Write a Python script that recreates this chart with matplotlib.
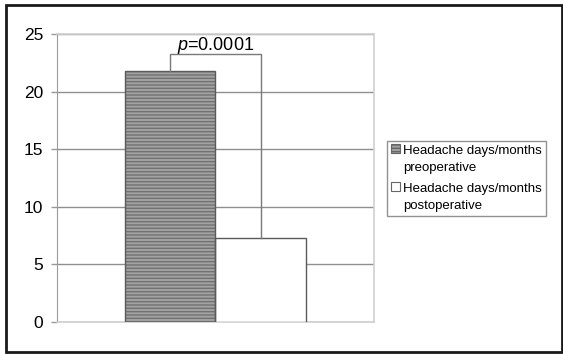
import matplotlib
matplotlib.use("Agg")
import matplotlib.pyplot as plt
from matplotlib.patches import Rectangle
from matplotlib.legend_handler import HandlerPatch

categorias = ["Headache days/months\npreoperative", "Headache days/months\npostoperative"]
valores = [21.8, 7.3]
texto_p = "$p$=0.0001"
altura_llave = 23.3
yticks = [0, 5, 10, 15, 20, 25]

plt.rcParams["font.family"] = ["Liberation Sans", "DejaVu Sans"]
plt.rcParams["mathtext.fontset"] = "custom"
plt.rcParams["mathtext.rm"] = "Liberation Sans"
plt.rcParams["mathtext.it"] = "Liberation Sans:italic"
plt.rcParams["hatch.linewidth"] = 1.0

fig = plt.figure(figsize=(5.63, 3.54), dpi=100)
ax = fig.add_axes([57 / 563, 1 - 322 / 354, 317 / 563, 288 / 354])

ancho = 0.285
xs = [0.5 - ancho / 2, 0.5 + ancho / 2]

# barra preoperatoria: gris con rayas horizontales
b1 = ax.bar(xs[0], valores[0], width=ancho, color="#a2a2a2", hatch="-----",
            edgecolor="#727272", linewidth=0, zorder=3)
ax.bar(xs[0], valores[0], width=ancho, fill=False, edgecolor="#5a5a5a",
       linewidth=1, zorder=4)
b2 = ax.bar(xs[1], valores[1], width=ancho, color="white", edgecolor="#5a5a5a",
            linewidth=1, zorder=3)

# llave de significancia
ax.plot([xs[0], xs[0], xs[1], xs[1]],
        [valores[0], altura_llave, altura_llave, valores[1]],
        color="#7a7a7a", lw=1, zorder=5, solid_joinstyle="miter")
ax.text(0.5, altura_llave + 0.3, texto_p, ha="center", va="baseline", fontsize=13)

ax.set_xlim(0, 1)
ax.set_ylim(0, 25)
ax.set_yticks(yticks)
ax.set_xticks([])
ax.tick_params(axis="y", length=4, width=1, color="#999999", pad=6, labelsize=12.5)
ax.grid(axis="y", color="#8f8f8f", lw=1, zorder=0)
ax.set_axisbelow(True)
ax.spines["left"].set_color("#9a9a9a")
for lado in ["top", "right", "bottom"]:
    ax.spines[lado].set_color("#cfcfcf")
    ax.spines[lado].set_linewidth(1.2)

interlineado = 1.55


def cuadro_arriba(legend, orig_handle, xdescent, ydescent, width, height, fontsize):
    # el marcador va junto a la primera línea del texto, no a la última
    sube = 0.82 * fontsize
    return Rectangle((-xdescent, -ydescent + sube), width, height)


leg = fig.legend([b1.patches[0], b2.patches[0]], categorias,
                 loc="upper left", bbox_to_anchor=(387 / 563, 1 - 141 / 354),
                 borderaxespad=0, fontsize=9.5, frameon=True, fancybox=False,
                 edgecolor="#777777", handlelength=0.65, handleheight=0.65,
                 handletextpad=0.25, labelspacing=0.7, borderpad=0.3,
                 handler_map={Rectangle: HandlerPatch(patch_func=cuadro_arriba)})
leg.get_frame().set_linewidth(1)
for t in leg.get_texts():
    t.set_linespacing(interlineado)
for h in leg.legend_handles:
    h.set_edgecolor("#666666")
    h.set_linewidth(0.8)

fig.patches.append(Rectangle((6 / 563, 2 / 354), 556 / 563, 347 / 354,
                             transform=fig.transFigure, fill=False,
                             edgecolor="#1a1a1a", lw=2))

fig.savefig("out.png", dpi=100)
